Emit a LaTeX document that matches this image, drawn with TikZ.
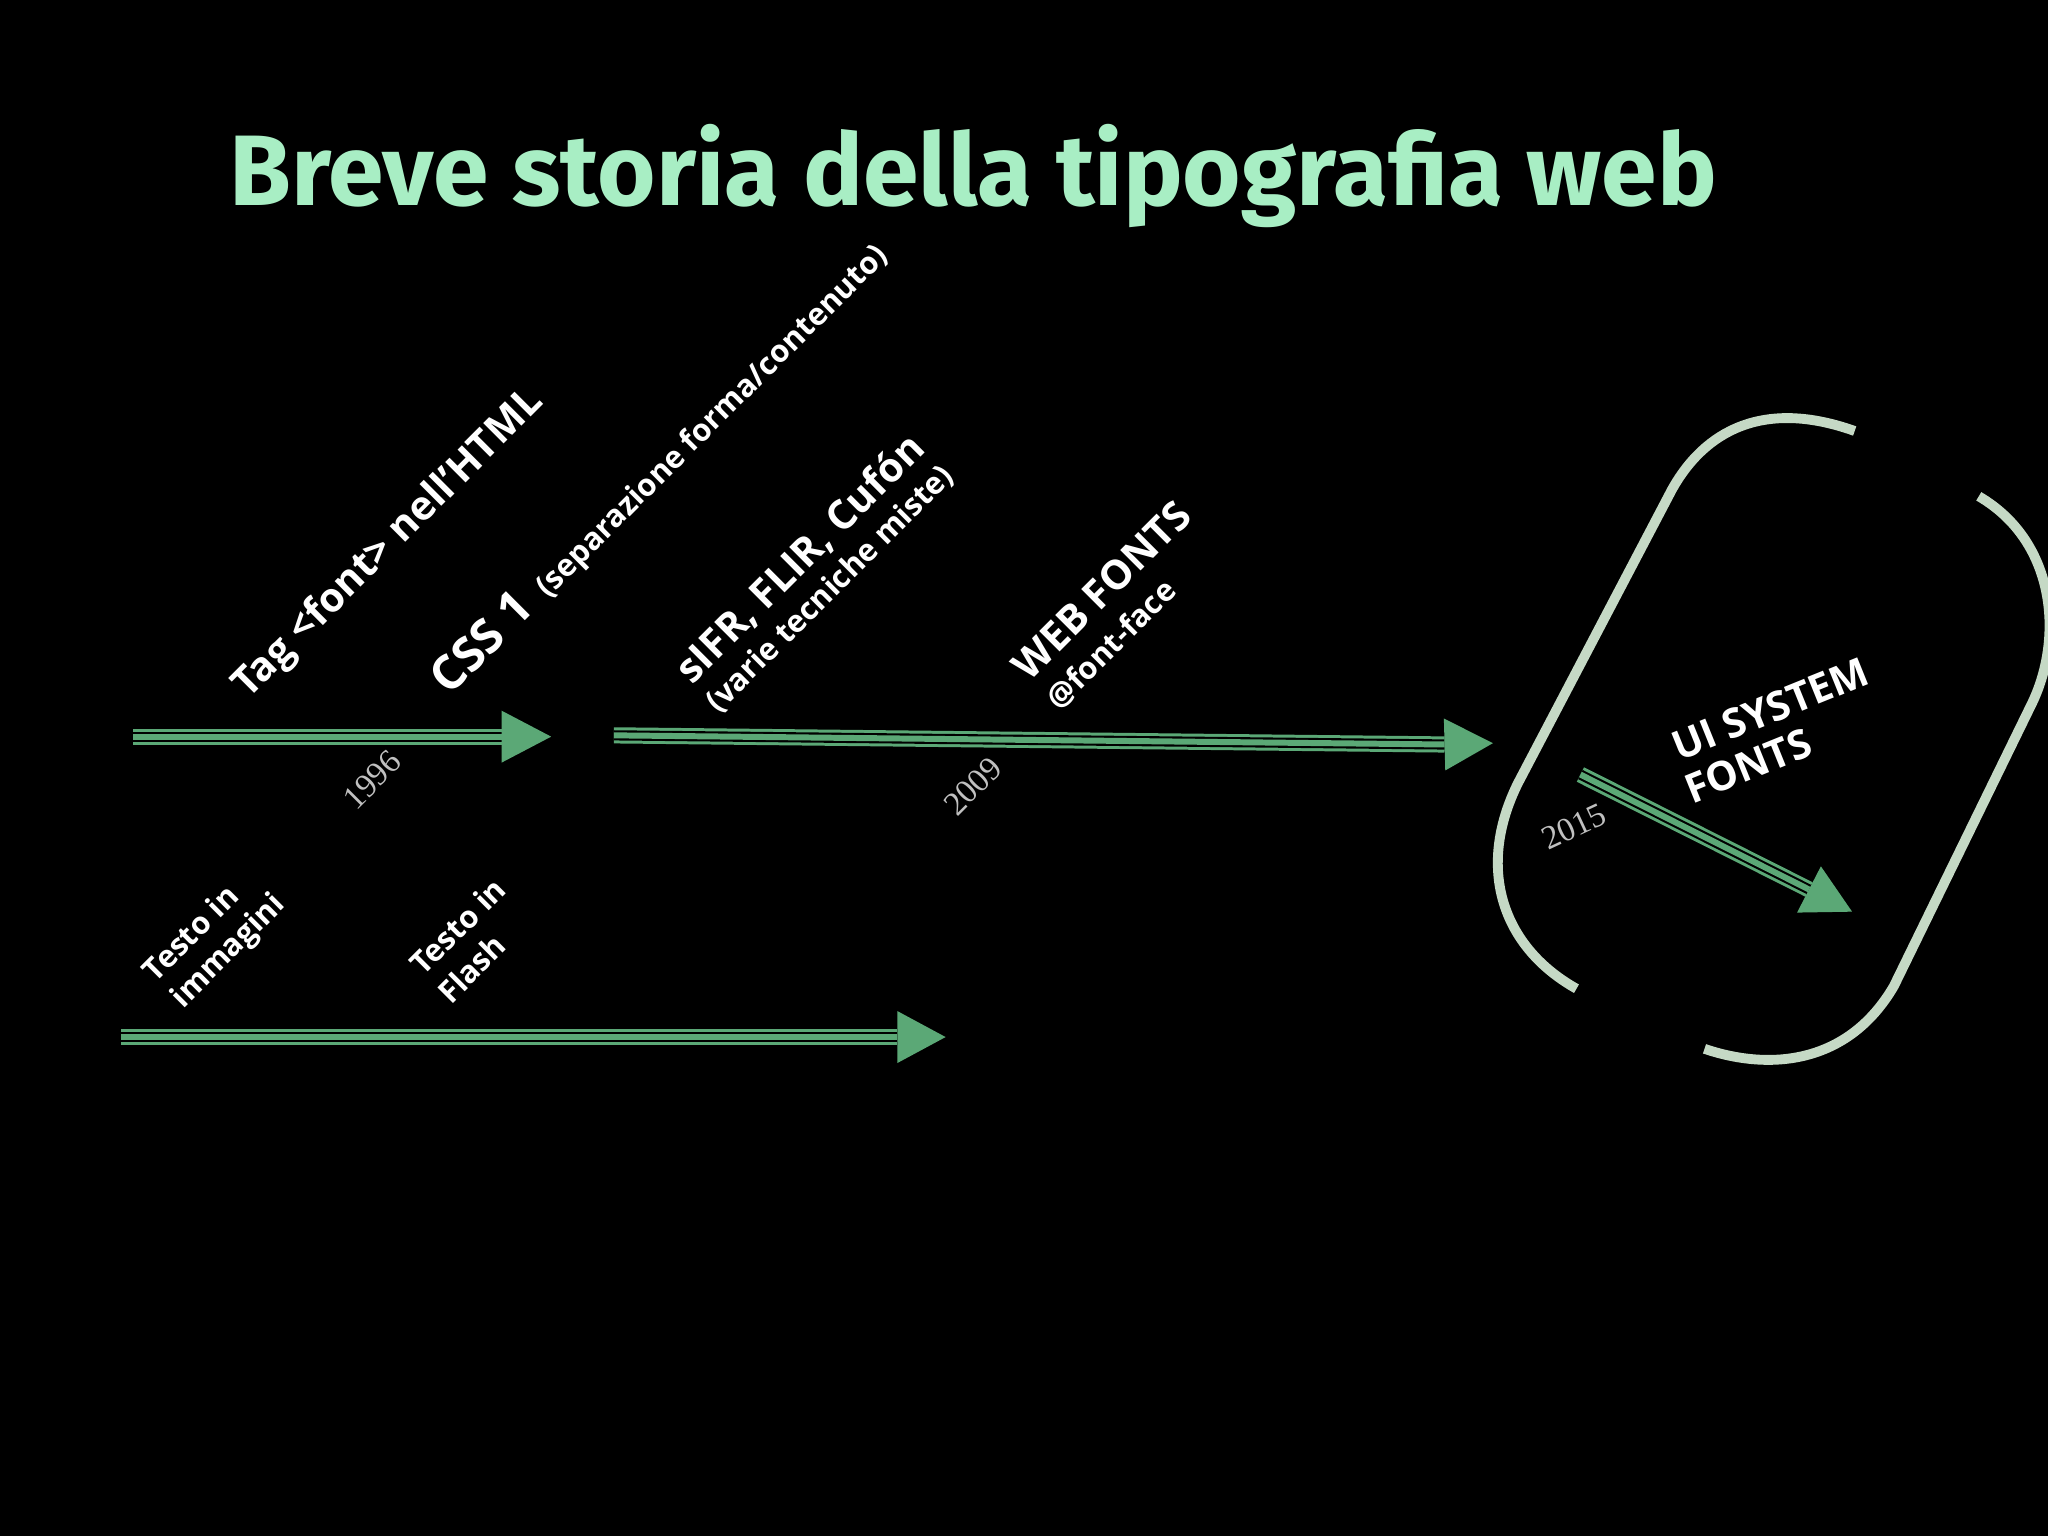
\documentclass[tikz,border=0pt]{standalone}
\usepackage{fontspec}
\setmainfont{Open Sans}
\newfontfamily\titlefont{Fira Sans}
\newfontfamily\yearfont{Liberation Serif}
\usetikzlibrary{calc}
\definecolor{arrg}{HTML}{5BA876}
\definecolor{titleg}{HTML}{A8EEC4}
\definecolor{ring}{HTML}{C5D9C5}
\definecolor{yr}{HTML}{C0C0C0}
\tikzset{
  lab/.style={text=white,font=\bfseries\fontsize{11.5}{13}\selectfont,rotate=45,anchor=base west,inner sep=0pt},
  labs/.style={text=white,font=\bfseries\fontsize{8.8}{10}\selectfont,rotate=45,anchor=base west,inner sep=0pt},
  year/.style={text=yr,font=\yearfont\fontsize{9.5}{10}\selectfont,rotate=45,inner sep=0pt},
  ringline/.style={draw=ring,line width=2.8pt,line cap=butt},
}
\newcommand{\tline}[3]{%
  \draw[arrg,line width=4.6pt] (#1) -- (#2);
  \draw[black,line width=2.9pt] (#1) -- (#2);
  \draw[arrg,line width=1.7pt] (#1) -- (#2);
  \fill[arrg] (#3) -- ($(#2)!7.4pt!90:(#3)$) -- ($(#2)!7.4pt!-90:(#3)$) -- cycle;}
\begin{document}
\begin{tikzpicture}[x=0.01306cm,y=-0.01306cm]
\fill[black] (0,0) rectangle (1568,1176);
\useasboundingbox (0,0) rectangle (1568,1176);
\node[text=titleg,font=\titlefont\bfseries\fontsize{28.5}{30}\selectfont,inner sep=0pt] (title) at (745,135) {Breve storia della tipografia web};
% arrows
\coordinate (a1s) at (102,564); \coordinate (a1e) at (384,564); \coordinate (a1t) at (422,564);
\tline{a1s}{a1e}{a1t}
\coordinate (a2s) at (470,563); \coordinate (a2e) at (1106,570); \coordinate (a2t) at (1143,569);
\tline{a2s}{a2e}{a2t}
\coordinate (a3s) at (93,794); \coordinate (a3e) at (687,794); \coordinate (a3t) at (724,794);
\tline{a3s}{a3e}{a3t}
\coordinate (a4s) at (1210,593); \coordinate (a4e) at (1385,681); \coordinate (a4t) at (1418,698);
\tline{a4s}{a4e}{a4t}
% labels
\node[lab] (tag) at (190,536) {Tag <font> nell’HTML};
\node[lab] (css) at (344,534) {{\fontsize{13.5}{15}\selectfont CSS 1}\, {\fontsize{8.8}{10}\selectfont (separazione forma/contenuto)}};
\node[lab] (sifr) at (530,525) {sIFR, FLIR, Cufón};
\node[labs] (varie) at (550,547) {(varie tecniche miste)};
\node[lab] (web) at (788,523) {WEB FONTS};
\node[labs] (ff) at (811,545) {@font-face};
\node[labs] (ti1) at (119,753) {Testo in};
\node[labs] (ti2) at (140,773) {immagini};
\node[labs] (tf1) at (324,748) {Testo in};
\node[labs] (tf2) at (345,770) {Flash};
\node[lab,rotate=-23] (ui1) at (1285,583) {UI SYSTEM};
\node[lab,rotate=-23] (ui2) at (1295,616) {FONTS};
% years
\node[year] (y1) at (285,597) {1996};
\node[year] (y2) at (745,602) {2009};
\node[year,rotate=-20] (y3) at (1205,633) {2015};
% ring
\draw[ringline] (1420,330) .. controls (1350,305) and (1305,330) .. (1280,375) -- (1162,600) .. controls (1130,665) and (1150,725) .. (1207,757);
\draw[ringline] (1515,380) .. controls (1575,415) and (1580,490) .. (1555,540) -- (1450,755) .. controls (1415,815) and (1355,820) .. (1305,803);
\end{tikzpicture}
\end{document}
